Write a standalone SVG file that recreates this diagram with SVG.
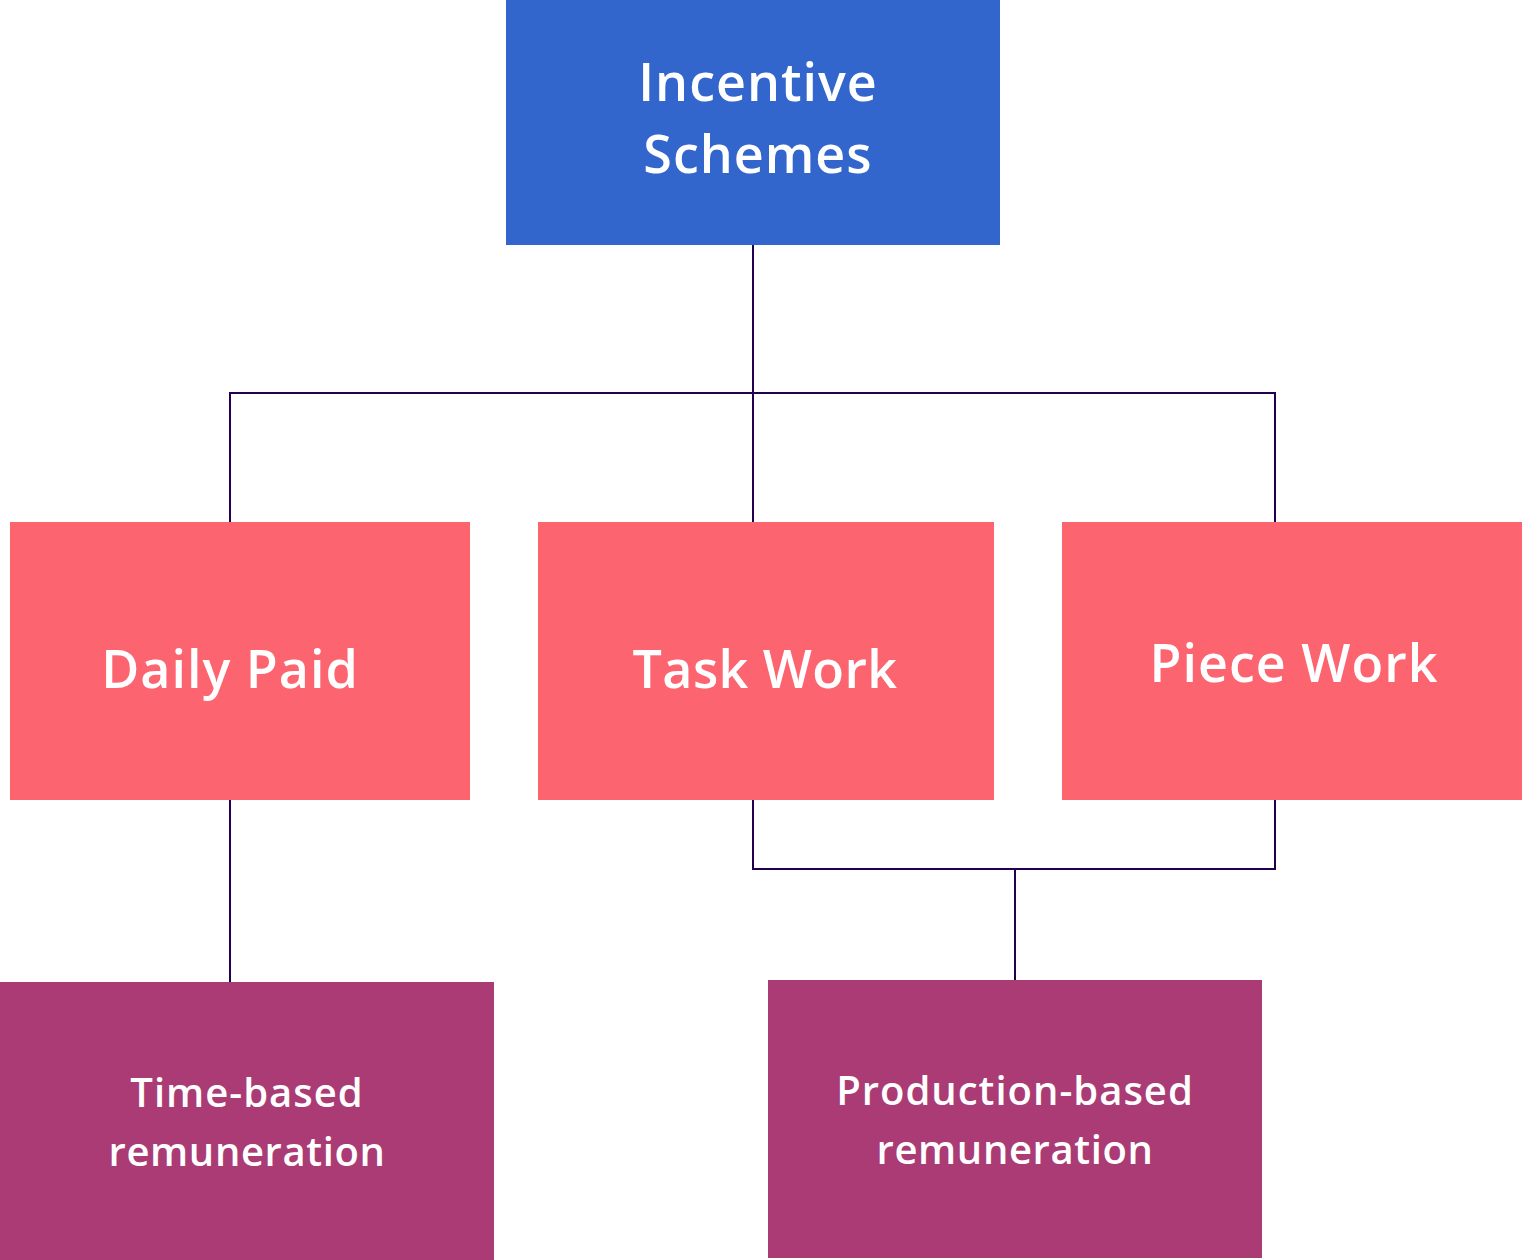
<svg xmlns="http://www.w3.org/2000/svg" width="1522" height="1260" viewBox="0 0 1522 1260">
<style>
.t{font-family:"Open Sans","Noto Sans","Liberation Sans",sans-serif;font-weight:600;fill:#ffffff;text-anchor:middle}
.big{font-size:52px;letter-spacing:1px}
.small{font-size:40px;letter-spacing:1px}
.c{fill:none;stroke:#22004f;stroke-width:2}
</style>
<rect width="1522" height="1260" fill="#ffffff"/>
<g id="connectors">
<path class="c" d="M753 245V393M230 522V393H1275V522M753 393V522"/>
<path class="c" d="M230 800V982"/>
<path class="c" d="M753 800V869H1275V800M1015 869V980"/>
</g>
<g id="incentive">
<rect x="506" y="0" width="494" height="245" fill="#3366cc"/>
<text class="t big" x="758" y="101">Incentive</text>
<text class="t big" x="758" y="173">Schemes</text>
</g>
<g id="daily">
<rect x="10" y="522" width="460" height="278" fill="#fc6470"/>
<text class="t big" x="230" y="688">Daily Paid</text>
</g>
<g id="task">
<rect x="538" y="522" width="456" height="278" fill="#fc6470"/>
<text class="t big" x="765" y="688" style="letter-spacing:0.4px">Task Work</text>
</g>
<g id="piece">
<rect x="1062" y="522" width="460" height="278" fill="#fc6470"/>
<text class="t big" x="1294" y="682">Piece Work</text>
</g>
<g id="time">
<rect x="0" y="982" width="494" height="278" fill="#aa3b75"/>
<text class="t small" x="247" y="1107">Time-based</text>
<text class="t small" x="247" y="1166" style="letter-spacing:0.6px">remuneration</text>
</g>
<g id="production">
<rect x="768" y="980" width="494" height="278" fill="#aa3b75"/>
<text class="t small" x="1015" y="1105">Production-based</text>
<text class="t small" x="1015" y="1164" style="letter-spacing:0.6px">remuneration</text>
</g>
</svg>
